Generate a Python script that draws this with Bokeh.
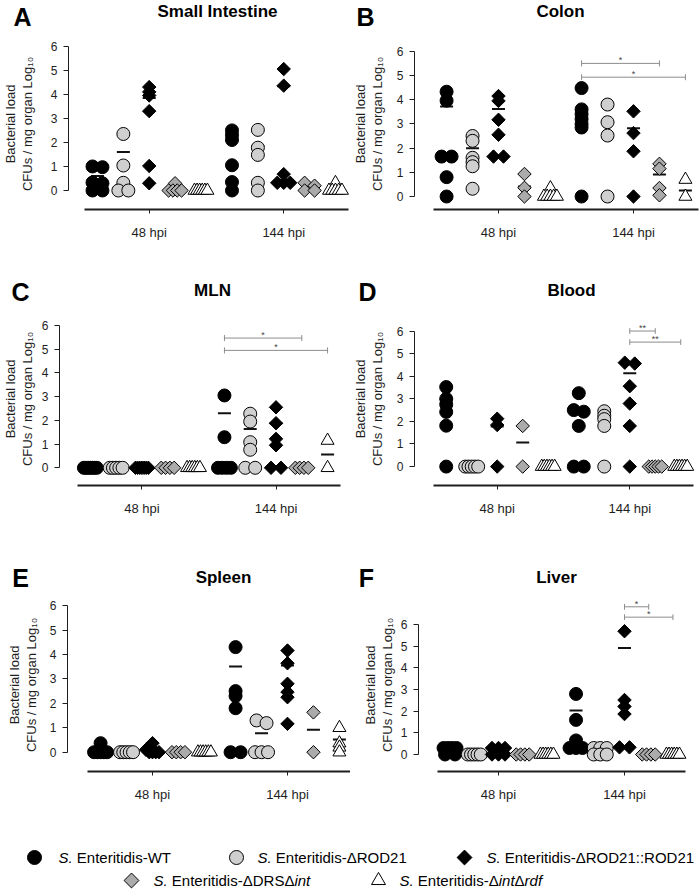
import math
from bokeh.plotting import figure
from bokeh.models import Range1d, LinearAxis, FixedTicker
from bokeh.layouts import column, row
from bokeh.embed import file_html
from bokeh.resources import INLINE
from bokeh.core.properties import value

nan = float("nan")
FONT = "Liberation Sans"

# ---------------- data ----------------
strains = ["S. Enteritidis-WT", "S. Enteritidis-\u0394ROD21", "S. Enteritidis-\u0394ROD21::ROD21",
           "S. Enteritidis-\u0394DRS\u0394int", "S. Enteritidis-\u0394int\u0394rdf"]
time_labels = ["48 hpi", "144 hpi"]
y_ticks = [0, 1, 2, 3, 4, 5, 6]
y_label = "Bacterial load\nCFUs / mg organ Log\u2081\u2080"
panel_letters = ["A", "B", "C", "D", "E", "F"]
panel_titles = ["Small Intestine", "Colon", "MLN", "Blood", "Spleen", "Liver"]

# A  Small Intestine
si_48 = [[1.0, 0.97, 0.33, 0.3, 0, 0], [2.35, 1.04, 0.32, 0, 0], [4.3, 4.1, 3.95, 3.3, 1.02, 0.3],
         [0.3, 0, 0, 0, 0], [0, 0, 0, 0, 0, 0]]
si_144 = [[2.5, 2.3, 2.1, 1.05, 0.35, 0], [2.52, 1.78, 1.48, 0.32, 0], [5.05, 4.36, 0.68, 0.32, 0.32, 0.32],
          [0.32, 0.2, 0, 0], [0.32, 0, 0, 0, 0, 0]]
si_48_mean = [0.6, 1.6, 3.85, nan, nan]
si_144_mean = [nan, 1.85, 4.33, nan, nan]
si_sig = []

# B  Colon
colon_48 = [[4.33, 3.96, 1.65, 1.65, 0.8, 0], [2.5, 2.3, 1.6, 1.42, 1.25, 0.32], [4.15, 3.95, 3.17, 2.55, 1.65, 1.65],
            [0.93, 0.36, 0], [0.35, 0, 0, 0, 0, 0]]
colon_144 = [[4.48, 3.6, 3.4, 3.2, 3.0, 2.85, 0], [3.8, 3.07, 2.52, 0], [3.52, 2.62, 1.87, 0],
             [1.35, 1.15, 0.35, 0.05], [0.7, 0]]
colon_48_mean = [3.72, 1.99, 3.62, 0.41, nan]
colon_144_mean = [3.55, 3.08, 2.82, 0.91, 0.25]
colon_sig = [(0, 3, 5.5, "*"), (0, 4, 4.93, "*")]

# C  MLN
mln_48 = [[0, 0, 0, 0, 0, 0, 0], [0, 0, 0, 0, 0], [0, 0, 0, 0, 0, 0, 0], [0, 0, 0, 0], [0, 0, 0, 0, 0, 0]]
mln_144 = [[3.05, 1.29, 0, 0, 0, 0], [2.28, 1.95, 1.08, 0.76, 0, 0], [2.55, 1.88, 1.22, 0.95, 0, 0],
           [0, 0, 0, 0], [1.15, 0]]
mln_48_mean = [nan, nan, nan, nan, nan]
mln_144_mean = [2.3, 1.64, 1.88, nan, 0.56]
mln_sig = [(0, 3, 5.47, "*"), (0, 4, 4.95, "*")]

# D  Blood
blood_48 = [[3.52, 3.0, 2.75, 2.42, 1.81, 0], [0, 0, 0, 0, 0], [2.12, 1.84, 0], [1.8, 0], [0, 0, 0, 0, 0, 0]]
blood_144 = [[3.25, 2.5, 2.43, 1.8, 0, 0], [2.45, 2.25, 2.1, 1.8, 0], [4.6, 4.56, 3.56, 2.79, 1.8, 0],
             [0, 0, 0, 0, 0], [0, 0, 0, 0, 0, 0]]
blood_48_mean = [2.99, nan, 1.77, 1.07, nan]
blood_144_mean = [nan, nan, 4.13, nan, nan]
blood_sig = [(2, 3, 6.0, "**"), (2, 4, 5.51, "**")]

# E  Spleen
spleen_48 = [[0.37, 0, 0, 0, 0, 0], [0, 0, 0, 0, 0], [0.37, 0.1, 0, 0, 0, 0], [0, 0, 0, 0], [0, 0, 0, 0, 0, 0]]
spleen_144 = [[4.3, 2.5, 2.3, 1.8, 0, 0], [1.3, 1.19, 0, 0, 0], [4.16, 3.64, 2.8, 2.46, 2.25, 1.16],
              [1.63, 0], [1.0, 0.37, 0.2, 0]]
spleen_48_mean = [nan, nan, nan, nan, nan]
spleen_144_mean = [3.51, 0.78, 3.55, 0.92, 0.52]
spleen_sig = []

# F  Liver
liver_48 = [[0.3, 0.3, 0.3, 0.3, 0, 0], [0, 0, 0, 0, 0], [0.3, 0.3, 0.3, 0, 0, 0], [0, 0, 0, 0], [0, 0, 0, 0, 0, 0]]
liver_144 = [[2.8, 1.6, 0.65, 0.3, 0.3, 0.3], [0.3, 0.3, 0.3, 0, 0, 0], [5.7, 2.52, 2.22, 1.87, 0.33, 0.33],
             [0, 0, 0, 0], [0, 0, 0, 0, 0, 0]]
liver_48_mean = [nan, nan, nan, nan, nan]
liver_144_mean = [2.03, nan, 4.93, nan, nan]
liver_sig = [(2, 3, 6.83, "*"), (2, 4, 6.35, "*")]

# legend text pieces (text, italic)
legend_parts = [
    [("S.", True), (" Enteritidis-WT", False)],
    [("S.", True), (" Enteritidis-\u0394ROD21", False)],
    [("S.", True), (" Enteritidis-\u0394ROD21::ROD21", False)],
    [("S.", True), (" Enteritidis-\u0394DRS\u0394", False), ("int", True)],
    [("S.", True), (" Enteritidis-\u0394", False), ("int", True), ("\u0394", False), ("rdf", True)],
]

# ---------------- styles / layout ----------------
STYLE = [
    dict(marker="circle", size=13, fill="#000000", angle=0.0),
    dict(marker="circle", size=13, fill="#cfcfcf", angle=0.0),
    dict(marker="square", size=9.5, fill="#000000", angle=math.pi / 4),
    dict(marker="square", size=9.5, fill="#ababab", angle=math.pi / 4),
    dict(marker="triangle", size=13, fill="#ffffff", angle=0.0),
]
GAP = 5.2   # distance (in strain columns) between the 48 hpi and 144 hpi groups
INK = "#1e1e1e"
W = 700

# page geometry of each panel (pixels)
GEO = {
    "A": dict(fx=0, fy=31, fw=350, fh=245, xa=67, c48=148, sx=25.96, y0=190, sy=24.05, ybot=209, ftop=38, lab=38),
    "B": dict(fx=350, fy=31, fw=350, fh=245, xa=414, c48=498, sx=25.96, y0=196, sy=24.2, ybot=209, ftop=38, lab=34),
    "C": dict(fx=0, fy=306, fw=350, fh=256, xa=57, c48=140, sx=25.96, y0=467.3, sy=23.72, ybot=485, ftop=312, lab=29),
    "D": dict(fx=350, fy=306, fw=350, fh=256, xa=413, c48=496, sx=25.58, y0=469, sy=23.9, ybot=489, ftop=306, lab=34),
    "E": dict(fx=0, fy=591, fw=350, fh=229, xa=67, c48=152, sx=25.96, y0=751.7, sy=24.44, ybot=771, ftop=598, lab=33),
    "F": dict(fx=350, fy=591, fw=350, fh=229, xa=418, c48=498, sx=24.23, y0=753.3, sy=22.5, ybot=771, ftop=591, lab=28),
}
# header strips: (top, bottom, [(letter x, letter y, title x, title y) for the two panels])
HEADERS = [
    (0, 31, [(22, 16, 217, 11), (365, 16, 560, 11)]),
    (276, 306, [(20, 291, 212, 290), (367, 291, 571, 290)]),
    (562, 591, [(20, 577, 223, 577), (366, 577, 556, 577)]),
]


def swarm_offsets(vals, sy, thr=3.0, step_max=10.0, width_max=13.0):
    """Pixel x-offsets that spread points with (nearly) equal values side by side."""
    order = sorted(range(len(vals)), key=lambda i: -vals[i])
    rows = []
    for i in order:
        if rows and abs(vals[rows[-1][-1]] - vals[i]) * sy < thr:
            rows[-1].append(i)
        else:
            rows.append([i])
    offs = [0.0] * len(vals)
    for r in rows:
        n = len(r)
        if n > 1:
            step = min(step_max, width_max / (n - 1))
            for k, i in enumerate(r):
                offs[i] = (k - (n - 1) / 2) * step
    return offs


def make_panel(key, vals48, vals144, mean48, mean144, sig):
    g = GEO[key]
    sx, sy, c48, y0 = g["sx"], g["sy"], g["c48"], g["y0"]
    xs = 2 + (g["xa"] - c48) / sx
    xe = 2 + (g["fx"] + g["fw"] - c48) / sx
    ys = (y0 - g["ybot"]) / sy
    ye = (y0 - g["ftop"]) / sy
    p = figure(width=g["fw"], height=g["fh"], x_range=Range1d(xs, xe), y_range=Range1d(ys, ye),
               output_backend="svg", toolbar_location=None, x_axis_type=None, y_axis_type=None,
               min_border_left=int(g["xa"] - g["fx"]), min_border_right=0,
               min_border_top=int(g["ftop"] - g["fy"]), min_border_bottom=int(g["fy"] + g["fh"] - g["ybot"]),
               outline_line_color=None, background_fill_color="white", border_fill_color="white")

    standoff = max(0, int(round(g["lab"] - 25)))
    yax = LinearAxis(ticker=FixedTicker(ticks=y_ticks), bounds=(0, 6),
                     axis_label=y_label, axis_label_standoff=standoff,
                     axis_label_text_font=FONT, axis_label_text_font_size="13px",
                     axis_label_text_font_style="normal", axis_label_text_color=INK,
                     axis_label_text_line_height=1.1,
                     axis_line_color=INK, axis_line_width=1,
                     major_tick_line_color=INK, major_tick_out=5, major_tick_in=0,
                     minor_tick_out=0, minor_tick_in=0,
                     major_label_text_font=FONT, major_label_text_font_size="12px",
                     major_label_standoff=6, major_label_text_color=INK)
    p.add_layout(yax, "left")

    tick_pos = [2, 2 + GAP]
    xax = LinearAxis(ticker=FixedTicker(ticks=tick_pos), bounds=(-0.5, 4 + GAP + 0.5),
                     major_label_overrides={tp: lab for tp, lab in zip(tick_pos, time_labels)},
                     axis_line_color=INK, axis_line_width=2,
                     major_tick_line_color=INK, major_tick_out=4, major_tick_in=0,
                     minor_tick_out=0, minor_tick_in=0,
                     major_label_text_font=FONT, major_label_text_font_size="13px",
                     major_label_standoff=11, major_label_text_color=INK)
    p.add_layout(xax, "below")

    # mean lines (drawn first so points cover hidden ones)
    mx, my = [], []
    for t, means in enumerate([mean48, mean144]):
        for j, m in enumerate(means):
            if not math.isnan(m):
                mx.append(t * GAP + j)
                my.append(m)
    if mx:
        p.scatter(mx, my, marker="dash", size=13, line_width=2, line_color="#111111")

    # points
    for j in range(5):
        px, py = [], []
        for t, vals in enumerate([vals48, vals144]):
            v = vals[j]
            offs = swarm_offsets(v, sy)
            for val, o in zip(v, offs):
                px.append(t * GAP + j + o / sx)
                py.append(val)
        st = STYLE[j]
        p.scatter(px, py, marker=st["marker"], size=st["size"], angle=st["angle"],
                  fill_color=st["fill"], line_color="#000000", line_width=1)

    # significance brackets (144 hpi)
    cap = 3.0 / sy
    for a, b, yv, lab in sig:
        x1, x2 = GAP + a, GAP + b
        p.segment(x0=[x1, x1, x2], y0=[yv, yv - cap, yv - cap], x1=[x2, x1, x2], y1=[yv, yv + cap, yv + cap],
                  line_color="#8c8c8c", line_width=1)
        p.text(x=[(x1 + x2) / 2], y=[yv + 3.0 / sy], text=[lab], text_font=value(FONT), text_font_size="9px",
               text_align="center", text_baseline="middle", text_color="#444444")
    return p


def make_header(top, bottom, spots, letters, titles):
    h = figure(width=W, height=bottom - top, x_range=Range1d(0, W), y_range=Range1d(bottom, top),
               output_backend="svg", toolbar_location=None, x_axis_type=None, y_axis_type=None,
               min_border=0, outline_line_color=None)
    h.text([s[0] for s in spots], [s[1] for s in spots], text=letters, text_font=value(FONT),
           text_font_size="25px", text_font_style="bold", text_align="center", text_baseline="middle",
           text_color="#000000")
    h.text([s[2] for s in spots], [s[3] for s in spots], text=titles, text_font=value(FONT),
           text_font_size="17px", text_font_style="bold", text_align="center", text_baseline="middle",
           text_color="#000000")
    return h


pA = make_panel("A", si_48, si_144, si_48_mean, si_144_mean, si_sig)
pB = make_panel("B", colon_48, colon_144, colon_48_mean, colon_144_mean, colon_sig)
pC = make_panel("C", mln_48, mln_144, mln_48_mean, mln_144_mean, mln_sig)
pD = make_panel("D", blood_48, blood_144, blood_48_mean, blood_144_mean, blood_sig)
pE = make_panel("E", spleen_48, spleen_144, spleen_48_mean, spleen_144_mean, spleen_sig)
pF = make_panel("F", liver_48, liver_144, liver_48_mean, liver_144_mean, liver_sig)

heads = []
for k, (top, bottom, spots) in enumerate(HEADERS):
    heads.append(make_header(top, bottom, spots, panel_letters[2 * k:2 * k + 2], panel_titles[2 * k:2 * k + 2]))

# ---------------- legend ----------------
AW = {' ': 278, '.': 278, '-': 333, ':': 278, 'S': 667, 'E': 667, 'n': 556, 't': 278, 'e': 556, 'r': 333,
      'i': 222, 'd': 556, 's': 500, 'W': 944, 'T': 611, 'R': 722, 'O': 778, 'D': 722, '2': 556, '1': 556,
      '\u0394': 668, 'f': 278}
LFS = 15


def tw(s):
    return sum(AW.get(ch, 556) for ch in s) / 1000.0 * LFS


# page positions: (marker x, text x, y)
LEG_POS = [(34, 58, 857), (236, 257, 857), (464, 486, 857), (131, 153, 880), (378, 399, 880)]

pL = figure(width=W, height=75, x_range=Range1d(0, W), y_range=Range1d(895, 820),
            output_backend="svg", toolbar_location=None, x_axis_type=None, y_axis_type=None,
            min_border=0, outline_line_color=None)
nx, ny, nt, ix, iy, it = [], [], [], [], [], []
for j, parts in enumerate(legend_parts):
    mxp, txp, yp = LEG_POS[j]
    st = STYLE[j]
    pL.scatter([mxp], [yp], marker=st["marker"], size=st["size"] + 1, angle=-st["angle"],
               fill_color=st["fill"], line_color="#000000", line_width=1)
    x = txp
    for txt, ital in parts:
        stripped = txt.lstrip(" ")
        x += (len(txt) - len(stripped)) * tw(" ")
        if ital:
            ix.append(x); iy.append(yp); it.append(stripped)
        else:
            nx.append(x); ny.append(yp); nt.append(stripped)
        x += tw(stripped)
pL.text(nx, ny, text=nt, text_font=value(FONT), text_font_size=f"{LFS}px", text_align="left",
        text_baseline="middle", text_color="#000000")
pL.text(ix, iy, text=it, text_font=value(FONT), text_font_size=f"{LFS}px", text_font_style="italic",
        text_align="left", text_baseline="middle", text_color="#000000")

layout = column(heads[0], row(pA, pB), heads[1], row(pC, pD), heads[2], row(pE, pF), pL)
open("out.html", "w").write(file_html(layout, INLINE, "Bacterial load"))
